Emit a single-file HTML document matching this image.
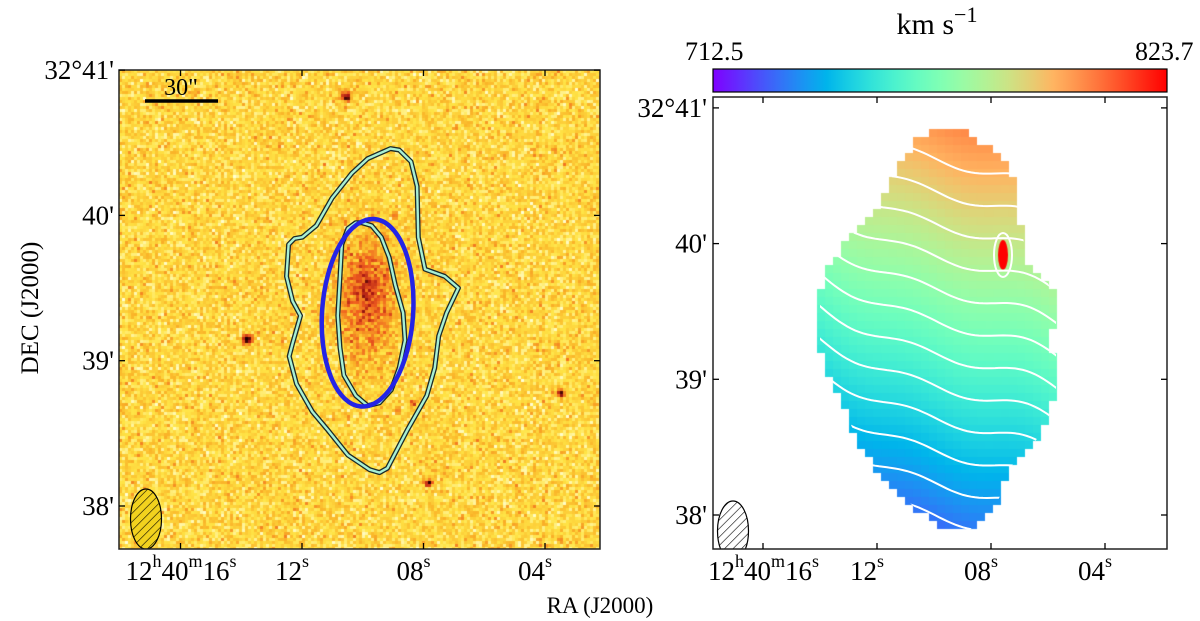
<!DOCTYPE html>
<html><head><meta charset="utf-8"><style>
html,body{margin:0;padding:0;background:#fff;}
#wrap{position:relative;width:1200px;height:621px;overflow:hidden;font-family:"Liberation Serif",serif;}
canvas{position:absolute;}
svg{position:absolute;left:0;top:0;}
</style></head><body>
<div id="wrap">
<canvas id="optical" width="481" height="479" style="left:119px;top:70px"></canvas>
<canvas id="velmap" width="454" height="452" style="left:713px;top:97px"></canvas>
<svg id="ov" width="1200" height="621">
<defs>
<linearGradient id="cbgrad" x1="0" x2="1" y1="0" y2="0"></linearGradient>
<pattern id="hatch" width="6" height="6" patternUnits="userSpaceOnUse" patternTransform="rotate(45)">
<line x1="0" y1="0" x2="0" y2="6" stroke="#000" stroke-width="1.2"/></pattern>
<clipPath id="clipL"><rect x="119" y="70" width="481" height="479"/></clipPath>
<clipPath id="clipR"><rect x="713" y="97" width="454" height="452"/></clipPath>
<clipPath id="maskR"><polygon id="maskPoly"/></clipPath>
</defs>
<g id="leftOver" clip-path="url(#clipL)"></g>
<g id="rightOver"></g>
<rect x="119" y="70" width="481" height="479" fill="none" stroke="#222" stroke-width="1.5"/>
<rect x="713" y="97" width="454" height="452" fill="none" stroke="#222" stroke-width="1.5"/>
<rect x="713" y="69" width="454" height="23" fill="url(#cbgrad)" stroke="#000" stroke-width="1.2"/>
<g id="ticks"></g>
<g font-family="Liberation Serif, serif" fill="#000">
<text x="937" y="34" text-anchor="middle" font-size="30">km s<tspan dy="-12" font-size="22">−1</tspan></text>
<text x="685" y="60" font-size="26">712.5</text>
<text x="1135" y="60" font-size="26">823.7</text>
<text transform="translate(38,308) rotate(-90)" text-anchor="middle" font-size="25">DEC (J2000)</text>
<text x="600" y="613" text-anchor="middle" font-size="23">RA (J2000)</text>
<text x="181" y="95" text-anchor="middle" font-size="24">30"</text>
</g>
<line x1="145" y1="101" x2="218" y2="101" stroke="#000" stroke-width="3.5"/>
<g id="labels" font-family="Liberation Serif, serif" fill="#000"></g>
</svg>
</div>
<script>
// ---- axis data ----
const raTicks = [16, 12, 8, 4];          // seconds of 12h40m
const raTickLabels = ["16", "12", "08", "04"];
const decTicks = [3, 2, 1, 0];            // arcmin above 32°38'
const decTickLabels = ["32°41'", "40'", "39'", "38'"];
// outer HI contour (RA s, Dec arcmin above 38')
const outerRA = [9.09,8.80,8.41,8.21,8.17,7.95,7.30,6.85,7.24,7.50,7.63,7.89,8.54,9.19,9.45,9.77,10.49,11.14,11.66,12.18,12.42,12.31,12.05,12.31,12.51,12.44,12.25,11.99,11.53,11.01,10.36,9.84];
const outerDec = [2.46,2.45,2.37,2.20,1.85,1.63,1.58,1.50,1.33,1.17,0.95,0.76,0.52,0.26,0.23,0.25,0.35,0.52,0.65,0.84,1.03,1.12,1.31,1.41,1.58,1.80,1.84,1.85,1.93,2.12,2.29,2.39];
const innerRA = [10.03,9.71,9.39,9.13,8.93,8.67,8.61,8.80,9.06,9.45,9.84,10.23,10.62,10.75,10.82,10.75,10.69,10.49,10.23];
const innerDec = [1.95,1.93,1.85,1.71,1.52,1.33,1.14,0.95,0.80,0.71,0.69,0.76,0.90,1.09,1.31,1.58,1.80,1.91,1.95];
const ellipseCenter = [9.84, 1.33]; // RA s, Dec arcmin
const ellipseAxes = [18.8, 38.8];   // arcsec
const vMin = 712.5, vMax = 823.7;
// velocity model: values at top / bottom of galaxy (km/s)
const velTop = 801, velBottom = 727;
const contourLevels = [730,736,742,748,754,760,766,772,778,784,790,796];

// axes
const L = {x0:302, sx:30.375, y0:506, sy:145.3};
const R = {x0:877, sx:28.5, y0:515, sy:135.7};
function xL(ra){return L.x0+(12-ra)*L.sx;}
function yL(d){return L.y0-d*L.sy;}
function xR(ra){return R.x0+(12-ra)*R.sx;}
function yR(d){return R.y0-d*R.sy;}

const NS="http://www.w3.org/2000/svg";
function mk(tag,attrs,parent){const e=document.createElementNS(NS,tag);for(const k in attrs)e.setAttribute(k,attrs[k]);parent.appendChild(e);return e;}

function rainbow(t){t=Math.max(0,Math.min(1,t));const r=Math.min(1,Math.abs(2*t-0.5)),g=Math.sin(Math.PI*t),b=Math.cos(Math.PI*t/2);return [r*255|0,g*255|0,b*255|0];}
const grad=document.getElementById('cbgrad');
for(let i=0;i<=20;i++){const c=rainbow(i/20);mk('stop',{offset:(i*5)+'%','stop-color':`rgb(${c})`},grad);}

let seed=12345;function rnd(){seed=(seed*1103515245+12345)&0x7fffffff;return seed/0x7fffffff;}

// ---- optical image ----
(function(){
const c=document.getElementById('optical').getContext('2d');
const stops=[[0,[255,255,215]],[0.22,[255,228,70]],[0.42,[250,180,40]],[0.62,[238,90,30]],[0.82,[170,25,20]],[1,[35,0,0]]];
function cm(v){v=Math.max(0,Math.min(1,v));for(let i=1;i<stops.length;i++){if(v<=stops[i][0]){const a=stops[i-1],b=stops[i],f=(v-a[0])/(b[0]-a[0]);return a[1].map((x,k)=>Math.round(x+(b[1][k]-x)*f));}}return stops[5][1];}
const stars=[[345,95,0.75,5],[246,338,0.85,5],[560,392,0.7,4],[427,481,0.7,4],[412,402,0.3,4],[503,295,0.25,3],[540,430,0.25,3],[237,77,0.2,3]];
const cs=3;
for(let y=0;y<479;y+=cs)for(let x=0;x<481;x+=cs){
 const X=x+119,Y=y+70;
 let v=0.27+(rnd()+rnd()+rnd()-1.5)*0.2;
 const dx=(X-366)/30,dy=(Y-295)/60;v+=0.36*Math.exp(-(dx*dx+dy*dy));
 const cx=(X-364)/10,cy=(Y-283)/14;v+=0.14*Math.exp(-(cx*cx+cy*cy));
 for(const s of stars){const a=(X-s[0])/s[3],b=(Y-s[1])/s[3];v+=s[2]*Math.exp(-(a*a+b*b));}
 const col=cm(v);c.fillStyle=`rgb(${col})`;c.fillRect(x,y,cs,cs);
}
})();

const lo=document.getElementById('leftOver');
function pts(ras,decs,fx,fy){return ras.map((r,i)=>fx(r).toFixed(1)+','+fy(decs[i]).toFixed(1)).join(' ');}
[[outerRA,outerDec,'outer-hi-contour'],[innerRA,innerDec,'inner-hi-contour']].forEach(([a,b,n])=>{
 const p=pts(a,b,xL,yL);
 const g=mk('g',{},lo);
 
 
 mk('polygon',{points:p,fill:'none',stroke:'#1a2a2a','stroke-width':5,'stroke-linejoin':'round'},g);
 mk('polygon',{points:p,fill:'none',stroke:'#a8f0d4','stroke-width':2.4,'stroke-linejoin':'round'},g);
});
const el=mk('ellipse',{cx:xL(ellipseCenter[0]),cy:yL(ellipseCenter[1]),rx:ellipseAxes[0]/60*L.sy,ry:ellipseAxes[1]/60*L.sy,fill:'none',stroke:'#2424e6','stroke-width':4.5,transform:`rotate(4 ${xL(ellipseCenter[0])} ${yL(ellipseCenter[1])})`},lo);


const b1=mk('g',{},lo);


mk('ellipse',{cx:146,cy:519,rx:15.5,ry:30,fill:'#f2d21e'},b1);
mk('ellipse',{cx:146,cy:519,rx:15.5,ry:30,fill:'url(#hatch)',stroke:'#000','stroke-width':1.2},b1);

// ---- velocity field ----
const mask=[[938,128],[965,128],[983,144],[1002,155],[1020,191],[1020,223],[1028,262],[1045,278],[1056,298],[1056,326],[1047,341],[1056,353],[1056,389],[1047,424],[1028,452],[1009,468],[1002,492],[991,515],[965,533],[946,533],[928,519],[902,496],[876,472],[857,440],[846,412],[830,381],[820,349],[820,290],[830,262],[857,229],[883,199],[894,171],[913,144],[920,136]];
document.getElementById('maskPoly').setAttribute('points',mask.map(p=>p.join(',')).join(' '));
function inside(x,y){let c=false;for(let i=0,j=mask.length-1;i<mask.length;j=i++){const[xi,yi]=mask[i],[xj,yj]=mask[j];if(((yi>y)!=(yj>y))&&(x<(xj-xi)*(y-yi)/(yj-yi)+xi))c=!c;}return c;}
const yT=130,yB=530;
function wig(x){return 1.5*Math.sin((x-820)/45)+1.0*Math.sin((x-820)/19);}
function vel(x,y){return velTop-(velTop-velBottom)*(y-yT)/(yB-yT)+0.07*(x-940)+wig(x);}
(function(){
const c=document.getElementById('velmap').getContext('2d');
const cs=8;
for(let y=97;y<549;y+=cs)for(let x=713;x<1167;x+=cs){
 const cx=x+cs/2,cy=y+cs/2;if(!inside(cx,cy))continue;
 const col=rainbow((vel(cx,cy)-vMin)/(vMax-vMin));c.fillStyle=`rgb(${col})`;c.fillRect(x-713,y-97,cs,cs);
}
c.fillStyle='#ff0000';c.beginPath();c.ellipse(1003-713,255-97,5,15,0,0,7);c.fill();
})();
const ro=document.getElementById('rightOver');
const cg=mk('g',{'clip-path':'url(#maskR)'},ro);


contourLevels.forEach(lv=>{
 const p=[];for(let x=815;x<=1062;x+=4){const y=yT+(velTop+0.07*(x-940)+wig(x)-lv)*(yB-yT)/(velTop-velBottom);p.push(x+','+y.toFixed(1));}
 const pl=mk('polyline',{points:p.join(' '),fill:'none',stroke:'#fff','stroke-width':2},cg);
 
 
});
mk('ellipse',{cx:1003,cy:255,rx:9,ry:22,fill:'none',stroke:'#fff','stroke-width':2},cg);
const b2=mk('g',{'clip-path':'url(#clipR)'},ro);


mk('ellipse',{cx:733,cy:531,rx:15.5,ry:30,fill:'#fff'},b2);
mk('ellipse',{cx:733,cy:531,rx:15.5,ry:30,fill:'url(#hatch)',stroke:'#000','stroke-width':1.2},b2);

// ---- ticks & labels ----
const tk=document.getElementById('ticks'),lb=document.getElementById('labels');
[[xL,yL,119,600,70,549,114],[xR,yR,713,1167,97,549,707]].forEach(([fx,fy,x0,x1,y0,y1,lx],pi)=>{
 raTicks.forEach((r,i)=>{const x=fx(r);
  mk('line',{x1:x,y1:y1,x2:x,y2:y1-6,stroke:'#000','stroke-width':1.3},tk);
  mk('line',{x1:x,y1:y0,x2:x,y2:y0+6,stroke:'#000','stroke-width':1.3},tk);
  let t;
  if(i===0){t=mk('text',{x:x-55,y:y1+31,'font-size':27},lb);t.innerHTML='12<tspan dy="-13" font-size="18">h</tspan><tspan dy="13">40</tspan><tspan dy="-13" font-size="18">m</tspan><tspan dy="13">'+raTickLabels[i]+'</tspan><tspan dy="-13" font-size="18">s</tspan>';}
  else{t=mk('text',{x:x-27,y:y1+31,'font-size':27},lb);t.innerHTML=raTickLabels[i]+'<tspan dy="-13" font-size="18">s</tspan>';}
  
  
 });
 decTicks.forEach((d,i)=>{const y=fy(d);
  mk('line',{x1:x0,y1:y,x2:x0+6,y2:y,stroke:'#000','stroke-width':1.3},tk);
  mk('line',{x1:x1,y1:y,x2:x1-6,y2:y,stroke:'#000','stroke-width':1.3},tk);
  const t=mk('text',{x:lx,y:y+9,'text-anchor':'end','font-size':27},lb);t.textContent=decTickLabels[i];
  
  
 });
});
</script>
</body></html>
